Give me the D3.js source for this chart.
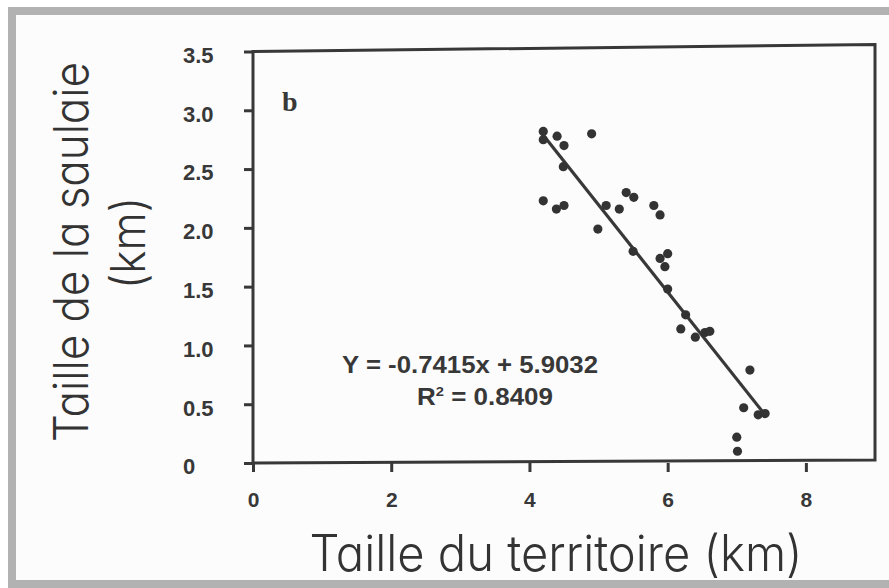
<!DOCTYPE html>
<html>
<head>
<meta charset="utf-8">
<script src="https://cdn.jsdelivr.net/npm/d3@7/dist/d3.min.js"></script>
<style>
  html, body { margin: 0; padding: 0; background: #ffffff; }
  svg { display: block; }
</style>
</head>
<body>
<svg id="chart" width="889" height="588"></svg>
<script>
// ---- data ----
const territoire = [4.20, 4.20, 4.40, 4.50, 4.90, 4.49, 4.20, 4.39, 4.50, 4.99,
                    5.11, 5.30, 5.40, 5.51, 5.80, 5.89, 5.50, 5.89, 6.00, 5.96,
                    6.00, 6.26, 6.19, 6.40, 6.54, 6.61, 7.19, 7.10, 7.31, 7.41,
                    7.00, 7.01];
const saulaie    = [2.82, 2.75, 2.78, 2.70, 2.80, 2.52, 2.23, 2.16, 2.19, 1.99,
                    2.19, 2.16, 2.30, 2.26, 2.19, 2.11, 1.80, 1.74, 1.78, 1.67,
                    1.48, 1.26, 1.14, 1.07, 1.11, 1.12, 0.79, 0.47, 0.41, 0.42,
                    0.22, 0.10];
const fitSlope = -0.7415;
const fitIntercept = 5.9032;
const fitRange = [4.17, 7.43];
const xTicks = [0, 2, 4, 6, 8];
const yTicks = [0, 0.5, 1.0, 1.5, 2.0, 2.5, 3.0, 3.5];
const xDomain = [0, 9];
const yDomain = [0, 3.5];
const equationText = "Y = -0.7415x + 5.9032";
const r2Value = "0.8409";
const panelLabel = "b";
const xTitle = "Taille du territoire (km)";
const yTitle = ["Taille de la saulaie", "(km)"];

// ---- drawing ----
const svg = d3.select("#chart");
const ink = "#383838";

// outer scanned frame
svg.append("rect").attr("x", 0).attr("y", 0).attr("width", 889).attr("height", 588).attr("fill", "#ffffff");
svg.append("rect").attr("x", 12).attr("y", 11).attr("width", 900).attr("height", 573)
   .attr("fill", "#fcfcfc").attr("stroke", "#b2b2b2").attr("stroke-width", 8);

const x = d3.scaleLinear().domain(xDomain).range([253, 875]);
const y = d3.scaleLinear().domain(yDomain).range([463, 51.5]);

// plot frame (the scan is slightly skewed: right side sits a little higher)
const frame = d3.path();
frame.moveTo(x(xDomain[0]), y(yDomain[1]));
frame.lineTo(x(xDomain[1]), y(yDomain[1]) - 7);
frame.lineTo(x(xDomain[1]), y(yDomain[0]) - 3);
frame.lineTo(x(xDomain[0]), y(yDomain[0]));
frame.closePath();
svg.append("path").attr("d", frame.toString())
  .attr("fill", "none").attr("stroke", ink).attr("stroke-width", 3)
  .attr("stroke-linejoin", "miter");

// y axis
const gy = svg.append("g")
  .attr("transform", `translate(${x(0)},0)`)
  .call(d3.axisLeft(y).tickValues(yTicks).tickSize(9).tickPadding(0)
        .tickFormat(d => d === 0 ? "0" : d3.format(".1f")(d)));
gy.select(".domain").remove();
gy.selectAll(".tick line").attr("stroke", ink).attr("stroke-width", 3);
gy.selectAll(".tick text")
  .attr("x", -70).attr("dy", "0.36em").attr("text-anchor", "start")
  .attr("transform", "translate(0,3)")
  .attr("fill", ink)
  .style("font-family", "'Liberation Sans', Arial, sans-serif")
  .style("font-weight", "bold").style("font-size", "22px");

// x axis
const gx = svg.append("g")
  .attr("transform", `translate(0,${y(0)})`)
  .call(d3.axisBottom(x).tickValues(xTicks).tickSize(9).tickFormat(d3.format("d")));
gx.select(".domain").remove();
gx.selectAll(".tick line").attr("stroke", ink).attr("stroke-width", 3);
gx.selectAll(".tick text")
  .attr("y", 29).attr("dy", "0.71em")
  .attr("fill", ink)
  .style("font-family", "'Liberation Sans', Arial, sans-serif")
  .style("font-weight", "bold").style("font-size", "21px");

// regression line
svg.append("line")
  .attr("x1", x(fitRange[0])).attr("y1", y(fitSlope * fitRange[0] + fitIntercept))
  .attr("x2", x(fitRange[1])).attr("y2", y(fitSlope * fitRange[1] + fitIntercept))
  .attr("stroke", ink).attr("stroke-width", 3.2);

// points
const pts = territoire.map((t, i) => ({ t, s: saulaie[i] }));
svg.append("g").selectAll("circle").data(pts).join("circle")
  .attr("cx", d => x(d.t)).attr("cy", d => y(d.s)).attr("r", 4.6)
  .attr("fill", "#333333");

// panel label
svg.append("text").attr("x", 282).attr("y", 111)
  .attr("fill", ink)
  .style("font-family", "'Liberation Serif', 'Times New Roman', serif")
  .style("font-weight", "bold").style("font-size", "28px")
  .text(panelLabel);

// equation
const eqFont = "'Liberation Sans', Arial, sans-serif";
svg.append("text").attr("x", 470).attr("y", 373).attr("text-anchor", "middle")
  .attr("fill", ink)
  .style("font-family", eqFont).style("font-weight", "bold").style("font-size", "23px")
  .attr("textLength", 256).attr("lengthAdjust", "spacingAndGlyphs")
  .text(equationText);
const r2 = svg.append("text").attr("x", 485).attr("y", 405).attr("text-anchor", "middle")
  .attr("fill", ink)
  .style("font-family", eqFont).style("font-weight", "bold").style("font-size", "23px")
  .attr("textLength", 136).attr("lengthAdjust", "spacingAndGlyphs");
r2.append("tspan").text("R");
r2.append("tspan").attr("dy", -9).style("font-size", "13px").text("2");
r2.append("tspan").attr("dy", 9).text(" = " + r2Value);

// axis titles
const titleFont = "Inter, 'Open Sans', 'DejaVu Sans', sans-serif";
svg.append("text").attr("x", 556).attr("y", 571).attr("text-anchor", "middle")
  .attr("fill", "#333")
  .style("font-family", titleFont).style("font-weight", "300").style("font-size", "50px")
  .style("font-feature-settings", "'cv11'")
  .attr("textLength", 493).attr("lengthAdjust", "spacingAndGlyphs")
  .text(xTitle);

svg.append("text").attr("transform", "translate(88,252) rotate(-90)")
  .attr("text-anchor", "middle").attr("fill", "#333")
  .style("font-family", titleFont).style("font-weight", "300").style("font-size", "48px")
  .style("font-feature-settings", "'cv11'")
  .attr("textLength", 380).attr("lengthAdjust", "spacingAndGlyphs")
  .text(yTitle[0]);
svg.append("text").attr("transform", "translate(145,243) rotate(-90)")
  .attr("text-anchor", "middle").attr("fill", "#333")
  .style("font-family", titleFont).style("font-weight", "300").style("font-size", "48px")
  .attr("textLength", 92).attr("lengthAdjust", "spacingAndGlyphs")
  .text(yTitle[1]);
</script>
</body>
</html>
